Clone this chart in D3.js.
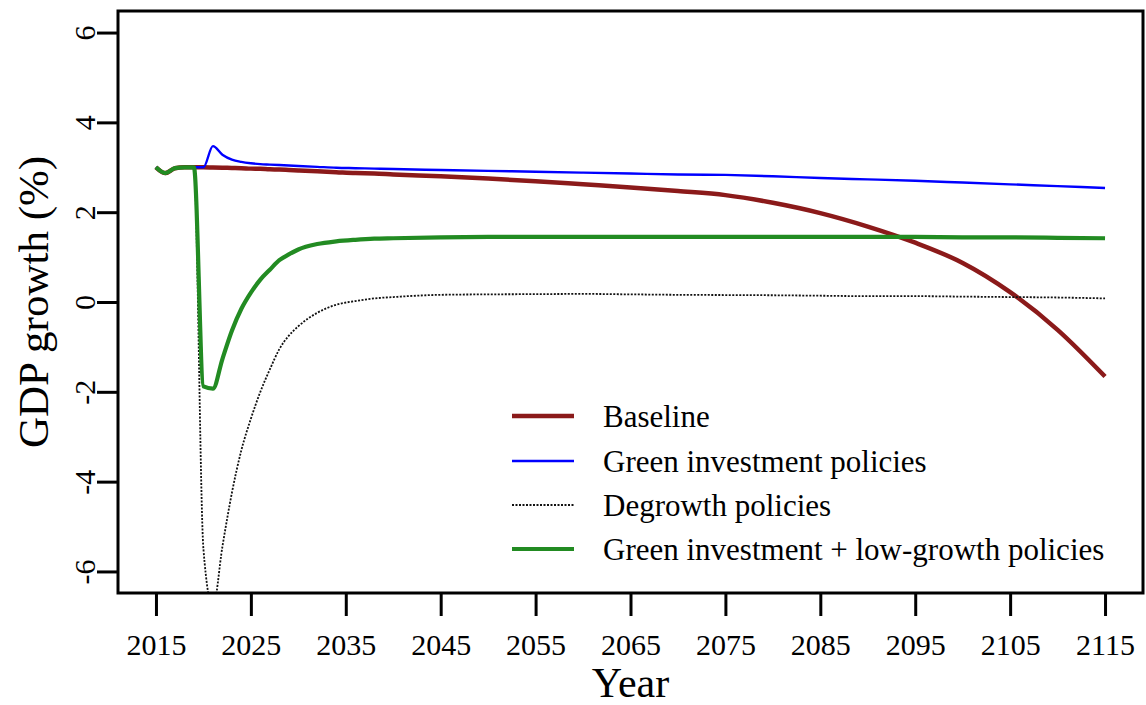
<!DOCTYPE html>
<html>
<head>
<meta charset="utf-8">
<script src="https://cdn.jsdelivr.net/npm/d3@7"></script>
<style>
  html, body { margin: 0; padding: 0; background: #fff; }
  svg { display: block; }
  svg text { font-family: "Liberation Serif", "DejaVu Serif", serif !important; fill: #000; }
</style>
</head>
<body>
<svg id="chart" width="1146" height="705"></svg>
<script>
// Annual GDP growth (%) under four policy scenarios
const years = [2015, 2016, 2017, 2018, 2019, 2020, 2021, 2022, 2023, 2024, 2025, 2026, 2027, 2028, 2029, 2030,
  2032, 2034, 2036, 2038, 2040, 2045, 2050, 2055, 2060, 2065, 2070, 2075, 2080, 2085, 2090, 2095, 2100, 2105, 2110, 2115];

const baseline = [3.00, 2.87, 2.98, 3.00, 3.00, 3.00, 2.995, 2.99, 2.985, 2.98, 2.97, 2.965, 2.955, 2.95, 2.94, 2.93,
  2.91, 2.89, 2.87, 2.86, 2.84, 2.80, 2.75, 2.69, 2.62, 2.55, 2.47, 2.38, 2.21, 1.98, 1.68, 1.32, 0.87, 0.22, -0.62, -1.66];

const greenInvestment = [3.00, 2.87, 2.98, 3.00, 3.00, 3.00, 3.47, 3.28, 3.17, 3.12, 3.09, 3.07, 3.06, 3.05, 3.04, 3.03,
  3.01, 2.99, 2.98, 2.97, 2.96, 2.94, 2.92, 2.90, 2.88, 2.86, 2.84, 2.83, 2.80, 2.76, 2.73, 2.70, 2.66, 2.62, 2.58, 2.54];

const degrowth = [3.00, 2.87, 2.98, 3.00, 3.00, -5.50, -6.80, -5.45, -4.25, -3.30, -2.60, -2.00, -1.50, -1.05, -0.75, -0.54,
  -0.24, -0.06, 0.02, 0.08, 0.11, 0.16, 0.17, 0.175, 0.18, 0.17, 0.16, 0.155, 0.15, 0.14, 0.13, 0.13, 0.12, 0.11, 0.10, 0.08];

const greenLowGrowth = [3.00, 2.87, 2.98, 3.00, 3.00, -1.88, -1.93, -1.27, -0.64, -0.15, 0.21, 0.50, 0.72, 0.93, 1.06, 1.17,
  1.29, 1.35, 1.385, 1.41, 1.42, 1.44, 1.45, 1.45, 1.45, 1.45, 1.45, 1.45, 1.45, 1.45, 1.45, 1.45, 1.44, 1.44, 1.43, 1.42];

const seriesNames = ["Baseline", "Green investment policies", "Degrowth policies", "Green investment + low-growth policies"];
const xTickValues = [2015, 2025, 2035, 2045, 2055, 2065, 2075, 2085, 2095, 2105, 2115];
const yTickValues = [-6, -4, -2, 0, 2, 4, 6];

// Plot region
const plotLeft = 118, plotRight = 1143, plotTop = 11, plotBottom = 593;
const serif = "'Liberation Serif', 'DejaVu Serif', serif";

const svg = d3.select("#chart");
svg.append("rect").attr("width", 1146).attr("height", 705).attr("fill", "#fff");

const x = d3.scaleLinear().domain([2011, 2119]).range([plotLeft, plotRight]);
const y = d3.scaleLinear().domain([-6.48, 6.48]).range([plotBottom, plotTop]);

svg.append("defs").append("clipPath").attr("id", "plotClip")
  .append("rect").attr("x", plotLeft).attr("y", plotTop)
  .attr("width", plotRight - plotLeft).attr("height", plotBottom - plotTop);

const series = [
  { name: seriesNames[0], values: baseline,        color: "#8B1A1A", width: 4.5, dash: null },
  { name: seriesNames[1], values: greenInvestment, color: "#0000FF", width: 2.4, dash: null },
  { name: seriesNames[2], values: degrowth,        color: "#111111", width: 1.8, dash: "2,1.5" },
  { name: seriesNames[3], values: greenLowGrowth,  color: "#228B22", width: 4.2, dash: null }
];

const line = d3.line()
  .x(d => x(d[0]))
  .y(d => y(d[1]))
  .curve(d3.curveMonotoneX);

const lines = svg.append("g").attr("clip-path", "url(#plotClip)");
series.forEach(s => {
  lines.append("path")
    .datum(years.map((yr, i) => [yr, s.values[i]]))
    .attr("d", line)
    .attr("fill", "none")
    .attr("stroke", s.color)
    .attr("stroke-width", s.width)
    .attr("stroke-linejoin", "round")
    .attr("stroke-dasharray", s.dash);
});

// Axes
const xAxis = svg.append("g")
  .attr("transform", `translate(0,${plotBottom})`)
  .call(d3.axisBottom(x).tickValues(xTickValues).tickSize(23).tickPadding(10).tickFormat(d => String(d)));
xAxis.attr("font-family", null).attr("font-size", null);
xAxis.select(".domain").remove();
xAxis.selectAll(".tick line").attr("stroke", "#000").attr("stroke-width", 3);
xAxis.selectAll(".tick text")
  .style("font-family", serif)
  .style("font-size", "30px")
  .attr("dy", null)
  .attr("y", 62);

const yAxis = svg.append("g")
  .attr("transform", `translate(${plotLeft},0)`)
  .call(d3.axisLeft(y).tickValues(yTickValues).tickSize(21).tickFormat(d => String(d)));
yAxis.attr("font-family", null).attr("font-size", null);
yAxis.select(".domain").remove();
yAxis.selectAll(".tick line").attr("stroke", "#000").attr("stroke-width", 3);
yAxis.selectAll(".tick text")
  .style("font-family", serif)
  .style("font-size", "30px")
  .attr("text-anchor", "middle")
  .attr("dy", null)
  .attr("x", 0)
  .attr("y", -23)
  .attr("transform", "rotate(-90)");

// Plot frame
svg.append("rect")
  .attr("x", plotLeft).attr("y", plotTop)
  .attr("width", plotRight - plotLeft).attr("height", plotBottom - plotTop)
  .attr("fill", "none").attr("stroke", "#000").attr("stroke-width", 3);

// Axis titles
svg.append("text")
  .attr("x", (plotLeft + plotRight) / 2).attr("y", 697)
  .attr("text-anchor", "middle")
  .style("font-size", "42px")
  .text("Year");

svg.append("text")
  .attr("transform", `translate(48,${(plotTop + plotBottom) / 2}) rotate(-90)`)
  .attr("text-anchor", "middle")
  .style("font-size", "43px")
  .text("GDP growth (%)");

// Legend
const legend = svg.append("g");
const legendRowsY = [416, 461, 505, 549];
series.forEach((s, i) => {
  legend.append("line")
    .attr("x1", 512).attr("x2", 574)
    .attr("y1", legendRowsY[i]).attr("y2", legendRowsY[i])
    .attr("stroke", s.color)
    .attr("stroke-width", s.width)
    .attr("stroke-dasharray", s.dash);
  legend.append("text")
    .attr("x", 603).attr("y", legendRowsY[i] + 11)
    .style("font-size", "31px")
    .text(s.name);
});
</script>
</body>
</html>
